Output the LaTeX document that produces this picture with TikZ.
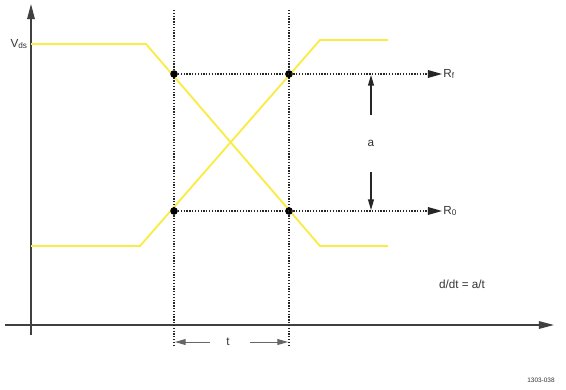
\documentclass[tikz,border=0pt]{standalone}
\usepackage{fontspec}
\setmainfont{Liberation Sans}
\usetikzlibrary{arrows.meta, positioning}
\definecolor{signal}{RGB}{250,236,70}

\begin{document}
\begin{tikzpicture}[x=0.03cm, y=-0.03cm,
            axis/.style={-{Triangle[length=13pt, width=6.5pt]}, line width=1.2pt, color=black!75},
            trace/.style={line width=1.6pt, color=signal, line join=round},
            guide/.style={dash pattern=on 1.1pt off 1.3pt, line width=1.1pt, color=black!85},
            level/.style={guide, -{Triangle[length=12pt, width=6.5pt]}},
            dot/.style={circle, fill=black, inner sep=0pt, minimum size=6.5pt},
            txt/.style={inner sep=1pt, font=\fontsize{10}{12}\selectfont, text=black!80},
            pointer/.style={-{Triangle[length=9pt, width=5pt]}, line width=1pt, color=black!85}
        ]
        \useasboundingbox (0,0) rectangle (566,389);

        % axes
        \coordinate (O) at (31,335);
        \coordinate (Ytop) at (31,4);
        \coordinate (Xl) at (5,325);
        \coordinate (Xr) at (554,325);
        \draw[axis] (O) -- (Ytop);
        \draw[axis] (Xl) -- (Xr);
        \node[txt, anchor=east] (Vds) at (29,44) {V\textsubscript{ds}};

        % falling and rising traces
        \coordinate (F0) at (31,44);
        \coordinate (F1) at (146,44);
        \coordinate (F2) at (320,246);
        \coordinate (F3) at (388,246);
        \draw[trace] (F0) -- (F1) -- (F2) -- (F3);

        \coordinate (S0) at (31,246);
        \coordinate (S1) at (140,246);
        \coordinate (S2) at (320,40);
        \coordinate (S3) at (388,40);
        \draw[trace] (S0) -- (S1) -- (S2) -- (S3);

        % time markers
        \coordinate (T1a) at (174,10);
        \coordinate (T1b) at (174,346);
        \coordinate (T2a) at (289,10);
        \coordinate (T2b) at (289,346);
        \draw[guide] (T1a) -- (T1b);
        \draw[guide] (T2a) -- (T2b);

        % crossing points
        \node[dot] (P1) at (174,74) {};
        \node[dot] (P2) at (289,74) {};
        \node[dot] (P3) at (174,211) {};
        \node[dot] (P4) at (289,211) {};

        % levels
        \node[txt, anchor=west] (Rf) at (442,74) {R\textsubscript{f}};
        \node[txt, anchor=west] (R0) at (442,211) {R\textsubscript{0}};
        \draw[level] (P1) -- (Rf.west);
        \draw[level] (P3) -- (R0.west);

        % amplitude
        \node[txt] (a) at (371,143) {a};
        \coordinate (A1) at (371,115);
        \coordinate (A2) at (371,75);
        \coordinate (A3) at (371,172);
        \coordinate (A4) at (371,210);
        \draw[pointer] (A1) -- (A2);
        \draw[pointer] (A3) -- (A4);

        % period
        \node[txt] (t) at (228,342) {t};
        \coordinate (B1) at (210,342);
        \coordinate (B2) at (175,342);
        \coordinate (B3) at (250,342);
        \coordinate (B4) at (288,342);
        \draw[pointer, color=black!60, line width=0.8pt] (B1) -- (B2);
        \draw[pointer, color=black!60, line width=0.8pt] (B3) -- (B4);

        \node[txt] (slope) at (462,284) {d/dt = a/t};
        \node[txt, font=\fontsize{5.5}{6}\selectfont] (fig) at (541,380) {1303-038};
        
        \end{tikzpicture}
\end{document}
